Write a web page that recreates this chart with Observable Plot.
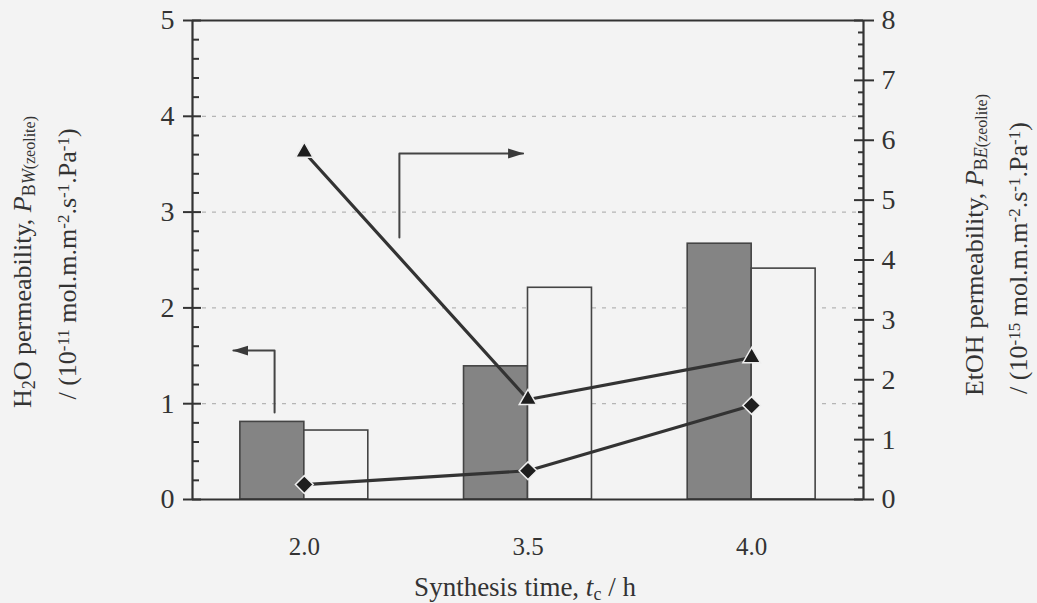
<!DOCTYPE html>
<html><head><meta charset="utf-8">
<script src="https://cdn.jsdelivr.net/npm/d3@7"></script>
<script src="https://cdn.jsdelivr.net/npm/@observablehq/plot@0.6"></script>
<style>body{margin:0;background:#f3f3f3;}</style>
</head><body><div id="chart"></div>
<script>
// ---- data ----
const times = ["2.0", "3.5", "4.0"];
const darkBars = [0.81, 1.39, 2.67];      // left axis
const whiteBars = [0.72, 2.21, 2.41];     // left axis
const triangleSeries = [5.8, 1.67, 2.37]; // right axis
const diamondSeries = [0.25, 0.48, 1.57]; // right axis
const leftTicks = [0, 1, 2, 3, 4, 5];
const rightTicks = [0, 1, 2, 3, 4, 5, 6, 7, 8];
const gridValues = [1, 2, 3, 4];
// annotation arrows (x in category-index units, y in left-axis units)
const arrowLeft = [{x: -0.133, y: 0.908}, {x: -0.133, y: 1.555}, {x: -0.317, y: 1.555}];
const arrowRight = [{x: 0.425, y: 2.735}, {x: 0.425, y: 3.612}, {x: 0.978, y: 3.612}];

const K = 5 / 8; // right-axis units -> left-axis units
const BW = 0.286; // bar width in category units
const bg = "#f3f3f3";
const ink = "#333";

const darkRows = times.map((t, i) => ({i, v: darkBars[i]}));
const whiteRows = times.map((t, i) => ({i, v: whiteBars[i]}));
const triRows = times.map((t, i) => ({i, v: triangleSeries[i] * K}));
const diaRows = times.map((t, i) => ({i, v: diamondSeries[i] * K}));
const leftMinor = d3.range(0, 5.001, 0.2).filter(v => Math.abs(v - Math.round(v)) > 1e-6);
const rightMinor = d3.range(0, 8.001, 0.2).filter(v => Math.abs(v - Math.round(v)) > 1e-6).map(v => v * K);

const plot = Plot.plot({
  width: 1037, height: 603,
  marginLeft: 192, marginRight: 174, marginTop: 20, marginBottom: 104,
  style: {background: "transparent", fontFamily: "'Liberation Serif', 'Times New Roman', serif", color: ink},
  x: {domain: [-0.5, 2.5]},
  y: {domain: [0, 5]},
  marks: [
    Plot.ruleY(gridValues, {stroke: "#b5b5b5", strokeDasharray: "4,6", strokeWidth: 1.3}),
    Plot.rectY(darkRows, {x1: d => d.i - BW, x2: "i", y1: 0, y2: "v", fill: "#848484", stroke: "#444", strokeWidth: 1.6}),
    Plot.rectY(whiteRows, {x1: "i", x2: d => d.i + BW, y1: 0, y2: "v", fill: bg, stroke: "#444", strokeWidth: 1.6}),
    Plot.line(triRows, {x: "i", y: "v", stroke: "#333", strokeWidth: 3.2}),
    Plot.line(diaRows, {x: "i", y: "v", stroke: "#333", strokeWidth: 3.2}),
    Plot.dot(triRows, {x: "i", y: "v", symbol: "triangle", r: 6.5, fill: "#1e1e1e", stroke: "#eee", strokeWidth: 1.5}),
    Plot.dot(diaRows, {x: "i", y: "v", symbol: "diamond2", r: 8, fill: "#1e1e1e", stroke: "#eee", strokeWidth: 1.5}),
    Plot.line(arrowLeft, {x: "x", y: "y", stroke: "#444", strokeWidth: 2}),
    Plot.line(arrowRight, {x: "x", y: "y", stroke: "#444", strokeWidth: 2}),
    // left axis
    Plot.axisY(leftTicks, {anchor: "left", tickSize: 9, tickPadding: 9, fontSize: 28, label: null, tickFormat: "d", stroke: ink, strokeWidth: 2}),
    Plot.axisY(leftTicks, {anchor: "left", tickSize: -9, text: null, label: null, stroke: ink, strokeWidth: 2}),
    Plot.axisY(leftMinor, {anchor: "left", tickSize: -7, text: null, label: null, stroke: ink, strokeWidth: 2}),
    // right axis
    Plot.axisY(rightTicks.map(v => v * K), {anchor: "right", tickSize: 10, tickPadding: 8, fontSize: 28, label: null, tickFormat: d => String(Math.round(d / K)), stroke: ink, strokeWidth: 2}),
    Plot.axisY(rightTicks.map(v => v * K), {anchor: "right", tickSize: -10, text: null, label: null, stroke: ink, strokeWidth: 2}),
    Plot.axisY(rightMinor, {anchor: "right", tickSize: -6, text: null, label: null, stroke: ink, strokeWidth: 2}),
    // x axis
    Plot.axisX([0, 1, 2], {tickFormat: i => times[i], tickSize: 0, tickPadding: 38, fontSize: 25, label: null}),
    // frame
    Plot.ruleY([0, 5], {stroke: ink, strokeWidth: 2.2}),
    Plot.ruleX([-0.5, 2.5], {stroke: ink, strokeWidth: 2.2})
  ]
});

const svg = d3.select(plot);
const defs = svg.insert("defs", ":first-child");
defs.append("marker").attr("id", "ah").attr("markerUnits", "userSpaceOnUse")
  .attr("viewBox", "0 -6 16 12").attr("markerWidth", 16).attr("markerHeight", 12)
  .attr("refX", 15).attr("refY", 0).attr("orient", "auto")
  .append("path").attr("d", "M0,-5L16,0L0,5Z").attr("fill", "#3a3a3a");
const lineGroups = svg.selectAll("g[aria-label=line]").nodes();
lineGroups.slice(-2).forEach(g => d3.select(g).selectAll("path").attr("marker-end", "url(#ah)"));

const font = "'Liberation Serif', 'Times New Roman', serif";
function title(x, y, rot, parts, size = 26) {
  const t = svg.append("text").attr("transform", `translate(${x},${y}) rotate(${rot})`)
    .attr("text-anchor", "middle").attr("font-family", font).attr("font-size", size).attr("fill", ink);
  parts.forEach(p => {
    const s = t.append("tspan").text(p.t);
    if (p.sub) s.attr("baseline-shift", "-22%").attr("font-size", p.size || 18);
    if (p.sup) s.attr("baseline-shift", "40%").attr("font-size", p.size || 17);
    if (p.it) s.attr("font-style", "italic");
  });
}
// left title
title(31, 262, -90, [
  {t: "H"}, {t: "2", sub: true}, {t: "O permeability, "}, {t: "P", it: true},
  {t: "B", sub: true}, {t: "W", sub: true, it: true}, {t: "(zeolite)", sub: true, size: 16}
]);
title(76, 264, -90, [
  {t: "/ (10"}, {t: "-11", sup: true}, {t: " mol.m.m"}, {t: "-2", sup: true},
  {t: ".s"}, {t: "-1", sup: true}, {t: ".Pa"}, {t: "-1", sup: true}, {t: ")"}
]);
// right title
title(983, 245, -90, [
  {t: "EtOH permeability, "}, {t: "P", it: true},
  {t: "B", sub: true}, {t: "E", sub: true, it: true}, {t: "(zeolite)", sub: true, size: 16}
]);
title(1027, 258, -90, [
  {t: "/ (10"}, {t: "-15", sup: true}, {t: " mol.m.m"}, {t: "-2", sup: true},
  {t: ".s"}, {t: "-1", sup: true}, {t: ".Pa"}, {t: "-1", sup: true}, {t: ")"}
]);
// x title
title(525, 596, 0, [
  {t: "Synthesis time, "}, {t: "t", it: true}, {t: "c", sub: true}, {t: " / h"}
], 27);

document.getElementById("chart").append(plot);
</script>
</body></html>
